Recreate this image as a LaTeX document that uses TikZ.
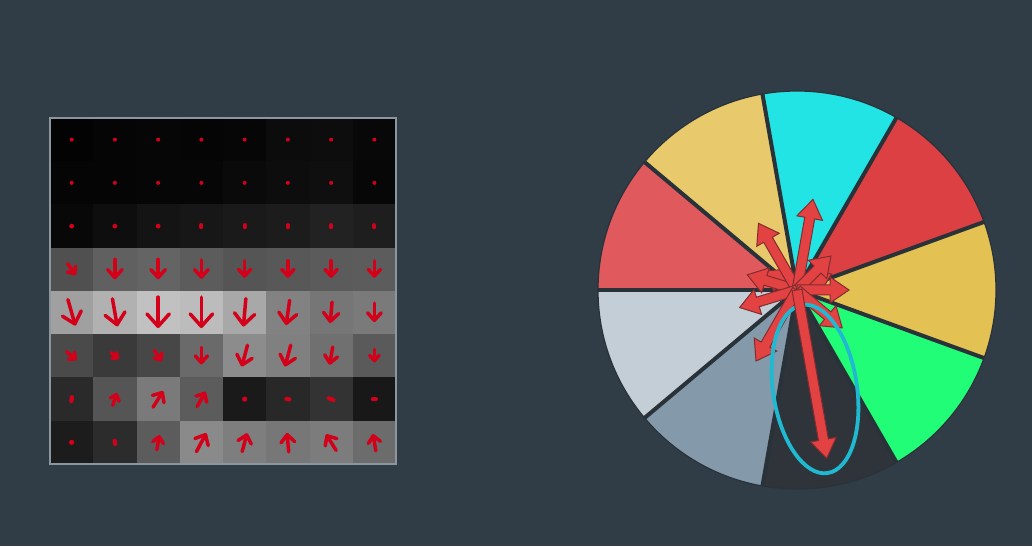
\documentclass[tikz,border=0pt]{standalone}
\usetikzlibrary{arrows.meta}
\definecolor{bg}{RGB}{48,61,71}
\definecolor{gred}{RGB}{212,0,26}
\definecolor{gframe}{RGB}{141,150,156}
\definecolor{sepc}{RGB}{42,50,57}
\definecolor{pA}{RGB}{224,90,93}
\definecolor{pB}{RGB}{232,201,108}
\definecolor{pC}{RGB}{35,228,228}
\definecolor{pD}{RGB}{220,64,67}
\definecolor{pE}{RGB}{227,193,82}
\definecolor{pF}{RGB}{34,253,119}
\definecolor{pG}{RGB}{47,52,59}
\definecolor{pH}{RGB}{132,153,169}
\definecolor{pI}{RGB}{195,206,214}
\definecolor{parrfill}{RGB}{226,66,66}
\definecolor{parrline}{RGB}{130,44,48}
\definecolor{ellc}{RGB}{31,185,210}
\tikzset{
  garrow/.style={gred, line width=3.5pt, line cap=round},
  gdotstyle/.style={fill=gred},
  piearrow/.style={fill=parrfill, draw=parrline, line width=1pt, line join=miter},
  sepline/.style={sepc, line width=4pt},
  gridframe/.style={gframe, line width=2pt},
  selell/.style={ellc, line width=3.8pt}
}
\newcommand\gcell[3]{\definecolor{cellc}{RGB}{#3,#3,#3}%
  \fill[cellc] ({50+(#1-1)*43.25},{428-(#2-1)*43.25}) rectangle ++(43.3,-43.3);}
\newcommand\garr[4]{%
  \pgfmathsetmacro\gx{50+(#1-0.5)*43.25}%
  \pgfmathsetmacro\gy{428-(#2-0.5)*43.25}%
  \pgfmathsetmacro\hl{max(3.5,0.4*#4)}%
  \pgfmathsetmacro\hw{max(7,0.72*#4)}%
  \draw[garrow, -{Straight Barb[length=\hl pt, width=\hw pt, round]}] (\gx,\gy) ++({#3+180}:{#4/2}) -- ++(#3:#4);}
\newcommand\gblob[4]{%
  \pgfmathsetmacro\gx{50+(#1-0.5)*43.25}%
  \pgfmathsetmacro\gy{428-(#2-0.5)*43.25}%
  \draw[garrow, line width=4.2pt] (\gx,\gy) ++({#3+180}:{#4/2}) -- ++(#3:#4);}
\newcommand\gdot[3]{%
  \pgfmathsetmacro\gx{50+(#1-0.5)*43.25}%
  \pgfmathsetmacro\gy{428-(#2-0.5)*43.25}%
  \fill[gdotstyle] (\gx,\gy) circle[radius=#3];}
\newcommand\parr[2]{%
  \begin{scope}[shift={(797,256)}, rotate=#1]
    \filldraw[piearrow] (0,-5) -- ({#2-19},-5) -- ({#2-19},-13) -- (#2,0) -- ({#2-19},13) -- ({#2-19},5) -- (0,5) -- cycle;
  \end{scope}}
\begin{document}
\begin{tikzpicture}[x=1pt,y=1pt]
\fill[bg] (0,0) rectangle (1032,546);
\useasboundingbox (0,0) rectangle (1032,546);
% ---------- grid cells ----------
\foreach \v [count=\i] in {3,5,6,5,6,12,13,8} {\gcell{\i}{1}{\v}}
\foreach \v [count=\i] in {5,5,6,6,10,13,15,7} {\gcell{\i}{2}{\v}}
\foreach \v [count=\i] in {8,14,20,23,26,28,34,30} {\gcell{\i}{3}{\v}}
\foreach \v [count=\i] in {80,96,100,92,85,88,91,92} {\gcell{\i}{4}{\v}}
\foreach \v [count=\i] in {160,177,193,188,168,130,118,122} {\gcell{\i}{5}{\v}}
\foreach \v [count=\i] in {74,58,71,106,140,128,112,90} {\gcell{\i}{6}{\v}}
\foreach \v [count=\i] in {42,85,122,92,26,40,51,24} {\gcell{\i}{7}{\v}}
\foreach \v [count=\i] in {28,44,92,138,126,119,124,108} {\gcell{\i}{8}{\v}}
\draw[gridframe] (50,428) rectangle (396,82);
% ---------- grid arrows ----------
\foreach \c in {1,...,8} {\gdot{\c}{1}{2}\gdot{\c}{2}{2}}
\foreach \c in {1,2,3} {\gdot{\c}{3}{2.4}}
\foreach \c in {4,...,8} {\gblob{\c}{3}{90}{2}}
\garr{1}{4}{-55}{14}\garr{2}{4}{-90}{20}\garr{3}{4}{-90}{20}\garr{4}{4}{-90}{19}
\garr{5}{4}{-90}{17}\garr{6}{4}{-90}{17}\garr{7}{4}{-90}{17}\garr{8}{4}{-90}{17}
\garr{1}{5}{-74}{27}\garr{2}{5}{-80}{28}\garr{3}{5}{-90}{31}\garr{4}{5}{-90}{31}
\garr{5}{5}{-95}{28}\garr{6}{5}{-98}{25}\garr{7}{5}{-95}{21}\garr{8}{5}{-90}{19}
\garr{1}{6}{-40}{13}\garr{2}{6}{-40}{10}\garr{3}{6}{-55}{13}\garr{4}{6}{-90}{17}
\garr{5}{6}{-105}{22}\garr{6}{6}{-105}{22}\garr{7}{6}{-100}{18}\garr{8}{6}{-90}{13}
\gblob{1}{7}{80}{4}\garr{2}{7}{70}{13}\garr{3}{7}{58}{19}\garr{4}{7}{60}{17}
\gdot{5}{7}{2.6}\gblob{6}{7}{170}{3}\gblob{7}{7}{160}{5}\gblob{8}{7}{180}{3}
\gdot{1}{8}{2.6}\gblob{2}{8}{100}{3}\garr{3}{8}{80}{15}\garr{4}{8}{62}{21}
\garr{5}{8}{75}{19}\garr{6}{8}{95}{19}\garr{7}{8}{122}{19}\garr{8}{8}{100}{17}
% ---------- pie ----------
\foreach \a/\col in {140/pA, 100/pB, 60/pC, 20/pD, -20/pE, -60/pF, -100/pG, -140/pH, 180/pI}
  {\fill[\col] (797,256) -- ++(\a:199) arc[start angle=\a, end angle=\a+40, radius=199] -- cycle;}
\draw[sepc, line width=1.2pt] (797,256) circle[radius=199];
\foreach \a in {180,140,100,60,20,-20,-60,-100,-140}
  {\draw[sepline] (797,256) -- ++(\a:199);}
% ---------- pie arrows ----------
\parr{150}{38}
\parr{163}{52}
\parr{120}{77}
\parr{80}{92}
\parr{25}{38}
\parr{45}{48}
\parr{0}{52}
\parr{-40}{59}
\parr{-163}{60}
\parr{-120}{82}
\draw[selell, rotate around={-81.5:(815,157)}] (815,157) ellipse[x radius=85, y radius=42];
\parr{-80}{171}
\end{tikzpicture}
\end{document}
